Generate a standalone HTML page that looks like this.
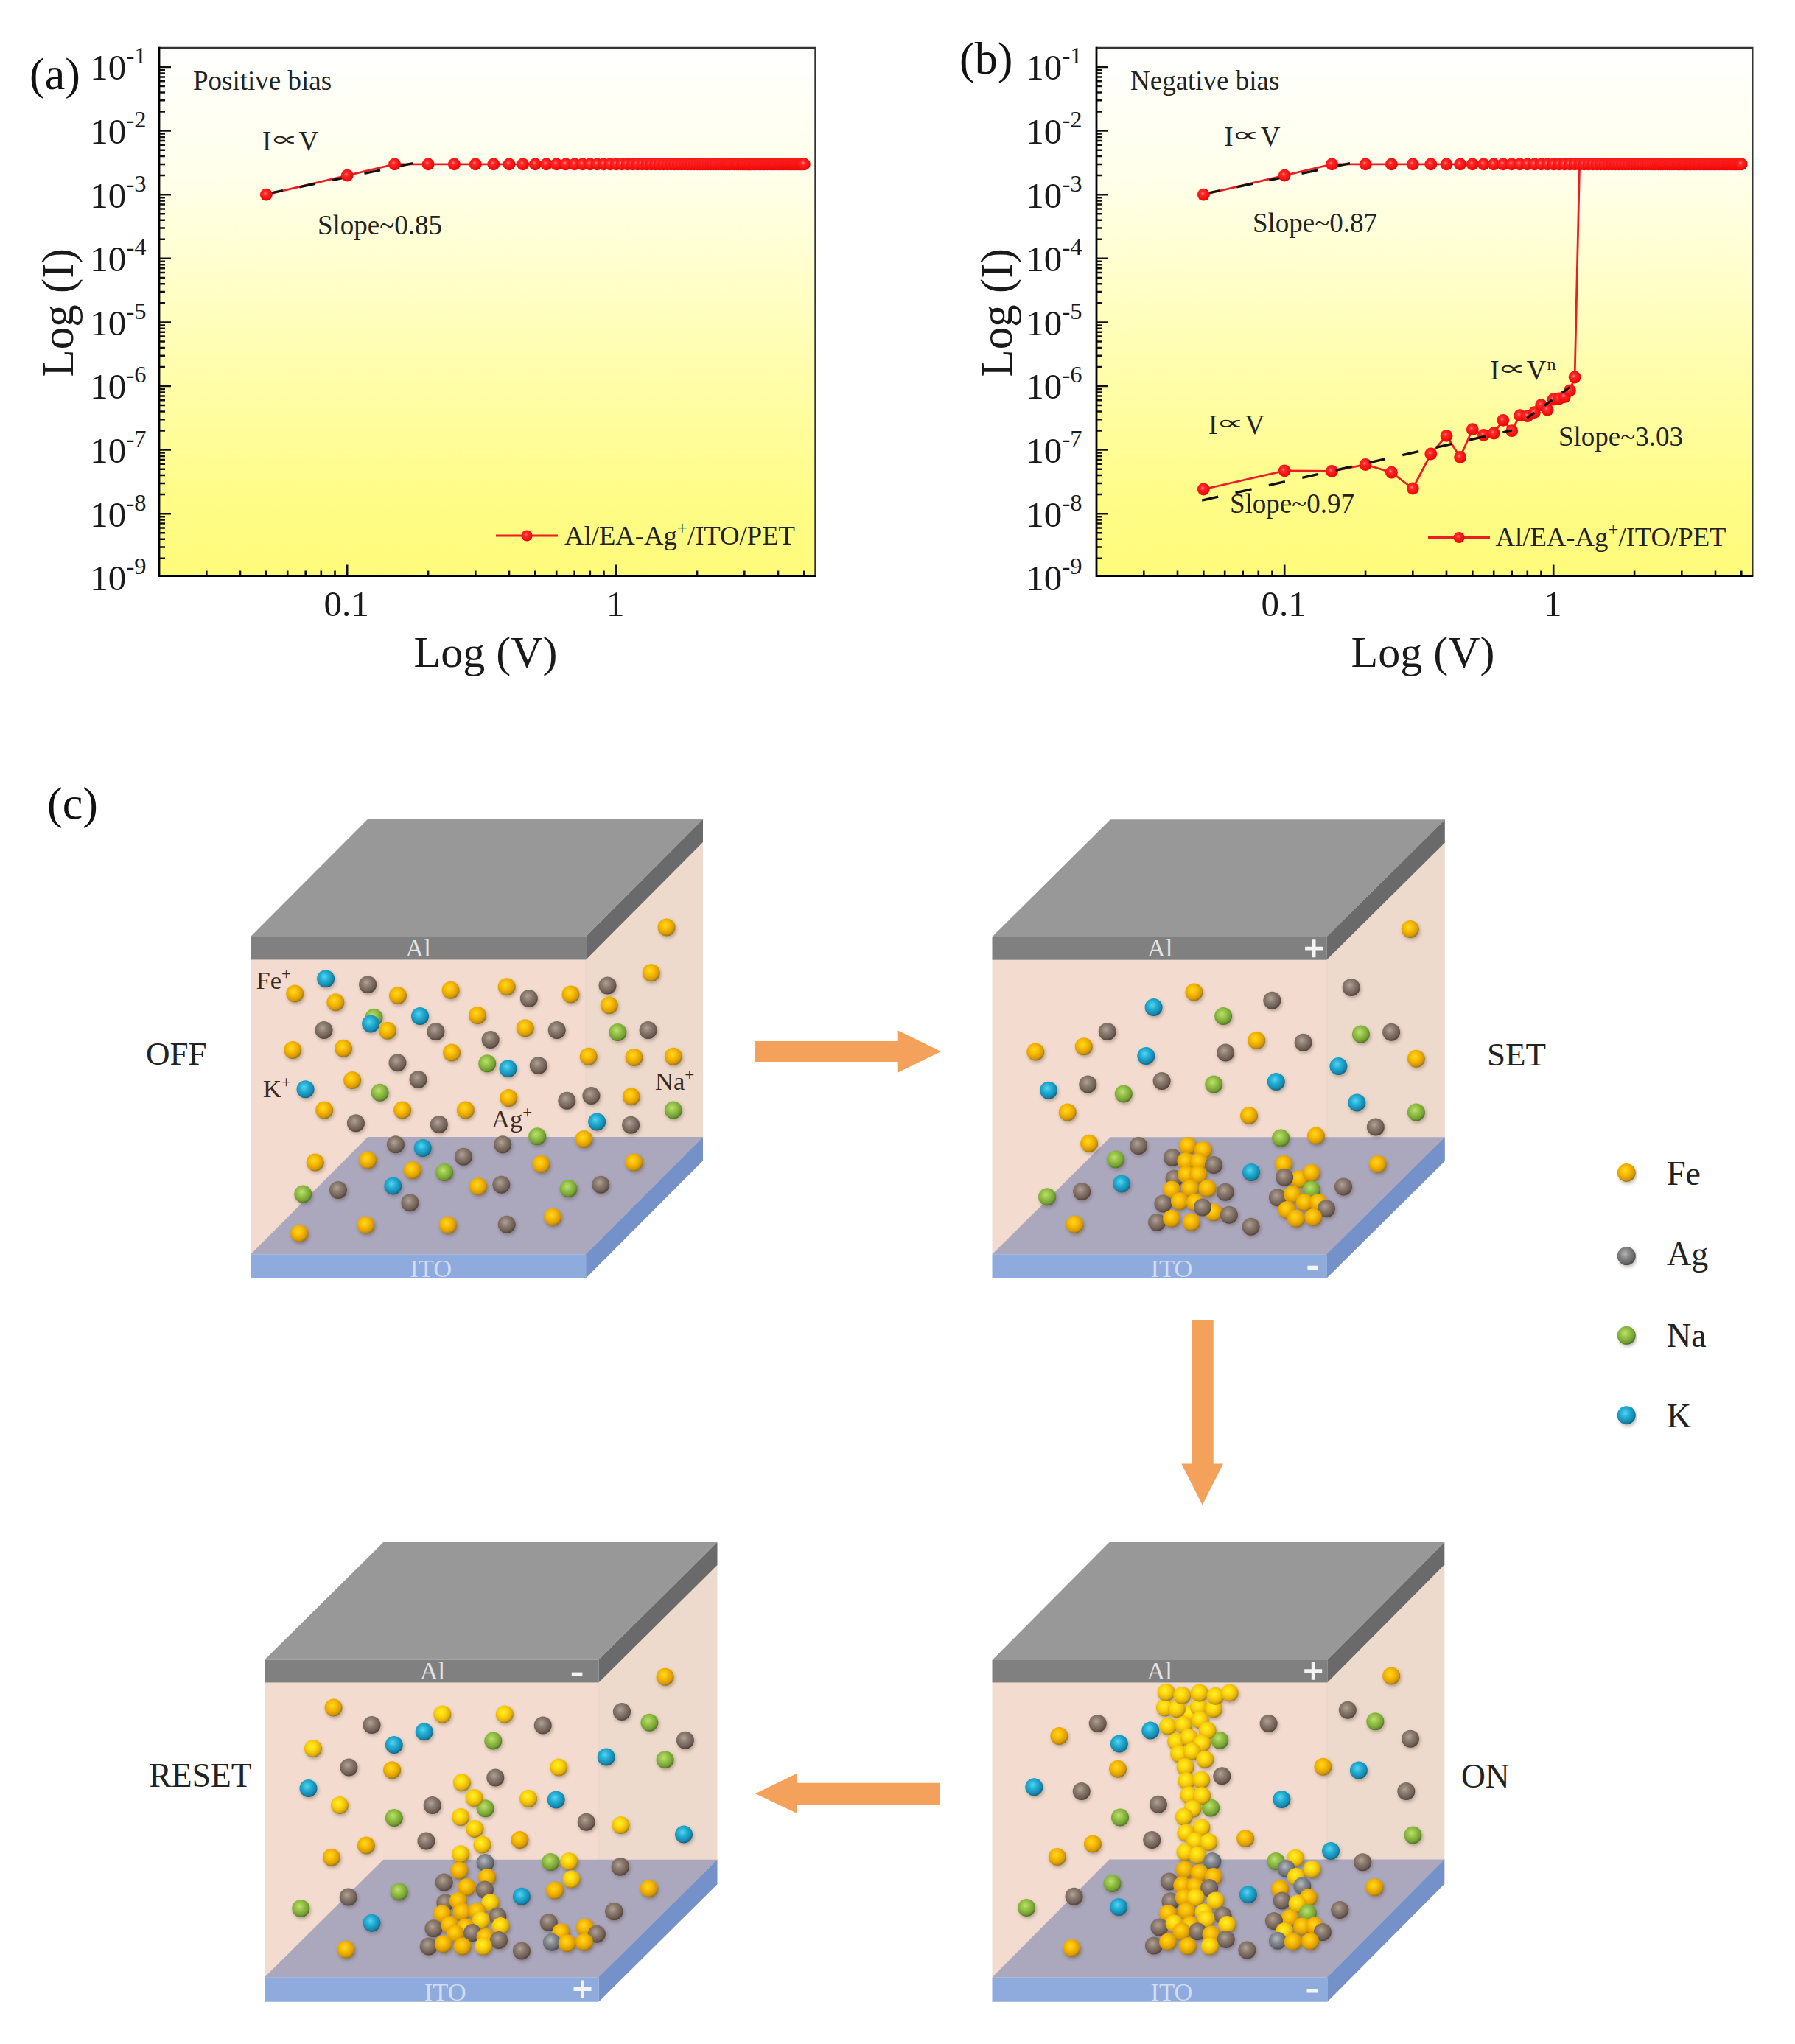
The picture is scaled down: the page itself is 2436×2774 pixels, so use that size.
<!DOCTYPE html>
<html><head><meta charset="utf-8"><title>Figure</title>
<style>html,body{margin:0;padding:0;background:#fff}svg{display:block}</style></head>
<body>
<svg width="2436" height="2774" viewBox="0 0 2436 2774">
<defs>
<linearGradient id="pg" x1="0" y1="0" x2="0" y2="1"><stop offset="0" stop-color="#ffffff"/><stop offset="0.25" stop-color="#ffffea"/><stop offset="0.6" stop-color="#fffeae"/><stop offset="0.85" stop-color="#fffc88"/><stop offset="1" stop-color="#fffb7a"/></linearGradient>
<radialGradient id="rm" cx="0.42" cy="0.4" r="0.6"><stop offset="0" stop-color="#ff8a8a"/><stop offset="0.25" stop-color="#ff2a2a"/><stop offset="1" stop-color="#f00000"/></radialGradient>
<radialGradient id="bY" cx="0.42" cy="0.38" r="0.64"><stop offset="0" stop-color="#ffd91f"/><stop offset="0.42" stop-color="#f8b902"/><stop offset="0.78" stop-color="#d79a07"/><stop offset="1" stop-color="#93700f"/></radialGradient>
<radialGradient id="by" cx="0.42" cy="0.38" r="0.64"><stop offset="0" stop-color="#fff22a"/><stop offset="0.42" stop-color="#fdd408"/><stop offset="0.78" stop-color="#e0ae06"/><stop offset="1" stop-color="#97780f"/></radialGradient>
<radialGradient id="bG" cx="0.42" cy="0.38" r="0.64"><stop offset="0" stop-color="#b1a296"/><stop offset="0.42" stop-color="#8a796d"/><stop offset="0.78" stop-color="#6f5e54"/><stop offset="1" stop-color="#4c403a"/></radialGradient>
<radialGradient id="bS" cx="0.42" cy="0.38" r="0.64"><stop offset="0" stop-color="#b8babd"/><stop offset="0.42" stop-color="#868a90"/><stop offset="0.78" stop-color="#666b72"/><stop offset="1" stop-color="#464a50"/></radialGradient>
<radialGradient id="bN" cx="0.42" cy="0.38" r="0.64"><stop offset="0" stop-color="#bbe070"/><stop offset="0.42" stop-color="#93c044"/><stop offset="0.78" stop-color="#739f34"/><stop offset="1" stop-color="#4c6c24"/></radialGradient>
<radialGradient id="bK" cx="0.42" cy="0.38" r="0.64"><stop offset="0" stop-color="#52d6f0"/><stop offset="0.42" stop-color="#23abd2"/><stop offset="0.78" stop-color="#158ab0"/><stop offset="1" stop-color="#0f5f7c"/></radialGradient>
<radialGradient id="bA" cx="0.42" cy="0.38" r="0.64"><stop offset="0" stop-color="#b4b4b4"/><stop offset="0.42" stop-color="#858585"/><stop offset="0.78" stop-color="#686868"/><stop offset="1" stop-color="#454545"/></radialGradient>
<filter id="sh" x="-5%" y="-5%" width="110%" height="110%"><feDropShadow dx="1.5" dy="2.5" stdDeviation="2.2" flood-color="#3a2a20" flood-opacity="0.33"/></filter>
</defs>
<rect width="2436" height="2774" fill="#fff"/>
<rect x="216.0" y="64.8" width="890.4000000000001" height="716.7" fill="url(#pg)"/>
<path d="M216.0 757.7h8M216.0 742.5h8M216.0 731.7h8M216.0 723.3h8M216.0 716.4h8M216.0 710.6h8M216.0 705.6h8M216.0 701.2h8M216.0 697.2h16M216.0 671.1h8M216.0 655.9h8M216.0 645.1h8M216.0 636.7h8M216.0 629.8h8M216.0 624.0h8M216.0 619.0h8M216.0 614.6h8M216.0 610.6h16M216.0 584.5h8M216.0 569.3h8M216.0 558.5h8M216.0 550.1h8M216.0 543.2h8M216.0 537.4h8M216.0 532.4h8M216.0 528.0h8M216.0 524.0h16M216.0 497.9h8M216.0 482.7h8M216.0 471.9h8M216.0 463.5h8M216.0 456.6h8M216.0 450.8h8M216.0 445.8h8M216.0 441.4h8M216.0 437.4h16M216.0 411.3h8M216.0 396.1h8M216.0 385.3h8M216.0 376.9h8M216.0 370.0h8M216.0 364.2h8M216.0 359.2h8M216.0 354.8h8M216.0 350.8h16M216.0 324.7h8M216.0 309.5h8M216.0 298.7h8M216.0 290.3h8M216.0 283.4h8M216.0 277.6h8M216.0 272.6h8M216.0 268.2h8M216.0 264.2h16M216.0 238.1h8M216.0 222.9h8M216.0 212.1h8M216.0 203.7h8M216.0 196.8h8M216.0 191.0h8M216.0 186.0h8M216.0 181.6h8M216.0 177.6h16M216.0 151.5h8M216.0 136.3h8M216.0 125.5h8M216.0 117.1h8M216.0 110.2h8M216.0 104.4h8M216.0 99.4h8M216.0 95.0h8M216.0 91.0h16" stroke="#111" stroke-width="2.5" fill="none"/>
<path d="M280.3 781.5v-7M326.0 781.5v-7M361.3 781.5v-7M390.2 781.5v-7M414.7 781.5v-7M435.8 781.5v-7M454.5 781.5v-7M471.2 781.5v-15M581.1 781.5v-7M645.3 781.5v-7M691.0 781.5v-7M726.3 781.5v-7M755.2 781.5v-7M779.7 781.5v-7M800.8 781.5v-7M819.5 781.5v-7M836.2 781.5v-15M946.1 781.5v-7M1010.3 781.5v-7M1056.0 781.5v-7M1091.3 781.5v-7" stroke="#111" stroke-width="2.6" fill="none"/>
<path d="M216.0 64.8H1106.4V781.5" stroke="#333" stroke-width="2.2" fill="none"/>
<path d="M216.0 63.8V781.5H1107.4" stroke="#000" stroke-width="2.8" fill="none"/>
<text x="122.3" y="108.3" font-size="49" text-anchor="start" fill="#1a1a1a" font-family='"Liberation Serif", serif'>10</text>
<text x="171.5" y="86.4" font-size="32.5" text-anchor="start" fill="#1a1a1a" font-family='"Liberation Serif", serif'>-1</text>
<text x="122.3" y="194.9" font-size="49" text-anchor="start" fill="#1a1a1a" font-family='"Liberation Serif", serif'>10</text>
<text x="171.5" y="173.0" font-size="32.5" text-anchor="start" fill="#1a1a1a" font-family='"Liberation Serif", serif'>-2</text>
<text x="122.3" y="281.5" font-size="49" text-anchor="start" fill="#1a1a1a" font-family='"Liberation Serif", serif'>10</text>
<text x="171.5" y="259.6" font-size="32.5" text-anchor="start" fill="#1a1a1a" font-family='"Liberation Serif", serif'>-3</text>
<text x="122.3" y="368.1" font-size="49" text-anchor="start" fill="#1a1a1a" font-family='"Liberation Serif", serif'>10</text>
<text x="171.5" y="346.2" font-size="32.5" text-anchor="start" fill="#1a1a1a" font-family='"Liberation Serif", serif'>-4</text>
<text x="122.3" y="454.7" font-size="49" text-anchor="start" fill="#1a1a1a" font-family='"Liberation Serif", serif'>10</text>
<text x="171.5" y="432.8" font-size="32.5" text-anchor="start" fill="#1a1a1a" font-family='"Liberation Serif", serif'>-5</text>
<text x="122.3" y="541.3" font-size="49" text-anchor="start" fill="#1a1a1a" font-family='"Liberation Serif", serif'>10</text>
<text x="171.5" y="519.4" font-size="32.5" text-anchor="start" fill="#1a1a1a" font-family='"Liberation Serif", serif'>-6</text>
<text x="122.3" y="627.9" font-size="49" text-anchor="start" fill="#1a1a1a" font-family='"Liberation Serif", serif'>10</text>
<text x="171.5" y="606.0" font-size="32.5" text-anchor="start" fill="#1a1a1a" font-family='"Liberation Serif", serif'>-7</text>
<text x="122.3" y="714.5" font-size="49" text-anchor="start" fill="#1a1a1a" font-family='"Liberation Serif", serif'>10</text>
<text x="171.5" y="692.6" font-size="32.5" text-anchor="start" fill="#1a1a1a" font-family='"Liberation Serif", serif'>-8</text>
<text x="122.3" y="801.1" font-size="49" text-anchor="start" fill="#1a1a1a" font-family='"Liberation Serif", serif'>10</text>
<text x="171.5" y="779.2" font-size="32.5" text-anchor="start" fill="#1a1a1a" font-family='"Liberation Serif", serif'>-9</text>
<text x="470.2" y="835.5" font-size="49" text-anchor="middle" fill="#1a1a1a" font-family='"Liberation Serif", serif'>0.1</text>
<text x="835.2" y="835.5" font-size="49" text-anchor="middle" fill="#1a1a1a" font-family='"Liberation Serif", serif'>1</text>
<text x="659.0" y="905.0" font-size="60" text-anchor="middle" fill="#1a1a1a" font-family='"Liberation Serif", serif'>Log (V)</text>
<text transform="translate(98.7,424.3) rotate(-90)" font-size="61" text-anchor="middle" fill="#1a1a1a" font-family='"Liberation Serif", serif'>Log (I)</text>
<text x="40.0" y="121.0" font-size="62" text-anchor="start" fill="#111" font-family='"Liberation Serif", serif'>(a)</text>
<text x="262.0" y="122.0" font-size="37" text-anchor="start" fill="#222" font-family='"Liberation Serif", serif'>Positive bias</text>
<text x="356.0" y="204.0" font-size="37" text-anchor="start" fill="#222" font-family='"Liberation Serif", serif'>I</text>
<text transform="translate(385.5,197.5) scale(1,0.5)" font-size="54" text-anchor="middle" fill="#222" font-family='"Liberation Serif", serif'>∝</text>
<text x="405.5" y="204.0" font-size="37" text-anchor="start" fill="#222" font-family='"Liberation Serif", serif'>V</text>
<text x="431.0" y="317.5" font-size="37" text-anchor="start" fill="#222" font-family='"Liberation Serif", serif'>Slope~0.85</text>
<path d="M361.3 264.2L471.2 238.1L535.5 222.9L581.1 222.9L616.4 222.9L645.3 222.9L669.8 222.9L691.0 222.9L709.6 222.9L726.3 222.9L741.4 222.9L755.2 222.9L767.9 222.9L779.7 222.9L790.6 222.9L800.8 222.9L810.4 222.9L819.5 222.9L828.1 222.9L836.2 222.9L843.9 222.9L851.3 222.9L858.4 222.9L865.1 222.9L871.6 222.9L877.8 222.9L883.8 222.9L889.5 222.9L895.1 222.9L900.5 222.9L905.7 222.9L910.7 222.9L915.6 222.9L920.3 222.9L924.9 222.9L929.4 222.9L933.7 222.9L937.9 222.9L942.1 222.9L946.1 222.9L950.0 222.9L953.8 222.9L957.5 222.9L961.2 222.9L964.7 222.9L968.2 222.9L971.6 222.9L975.0 222.9L978.2 222.9L981.4 222.9L984.6 222.9L987.7 222.9L990.7 222.9L993.6 222.9L996.6 222.9L999.4 222.9L1002.2 222.9L1005.0 222.9L1007.7 222.9L1010.3 222.9L1013.0 222.9L1015.5 222.9L1018.1 222.9L1020.6 222.9L1023.0 222.9L1025.5 222.9L1027.8 222.9L1030.2 222.9L1032.5 222.9L1034.8 222.9L1037.0 222.9L1039.3 222.9L1041.4 222.9L1043.6 222.9L1045.7 222.9L1047.8 222.9L1049.9 222.9L1051.9 222.9L1054.0 222.9L1056.0 222.9L1057.9 222.9L1059.9 222.9L1061.8 222.9L1063.7 222.9L1065.6 222.9L1067.4 222.9L1069.2 222.9L1071.1 222.9L1072.9 222.9L1074.6 222.9L1076.4 222.9L1078.1 222.9L1079.8 222.9L1081.5 222.9L1083.2 222.9L1084.9 222.9L1086.5 222.9L1088.1 222.9L1089.7 222.9L1091.3 222.9" stroke="#ee1c25" stroke-width="2.8" fill="none"/>
<path d="M362.3 263L568.3 220" stroke="#111" stroke-width="3.3" stroke-dasharray="22 23" fill="none"/>
<circle cx="361.3" cy="264.2" r="8.4" fill="url(#rm)"/>
<circle cx="471.2" cy="238.1" r="8.4" fill="url(#rm)"/>
<circle cx="535.5" cy="222.9" r="8.4" fill="url(#rm)"/>
<circle cx="581.1" cy="222.9" r="8.4" fill="url(#rm)"/>
<circle cx="616.4" cy="222.9" r="8.4" fill="url(#rm)"/>
<circle cx="645.3" cy="222.9" r="8.4" fill="url(#rm)"/>
<circle cx="669.8" cy="222.9" r="8.4" fill="url(#rm)"/>
<circle cx="691.0" cy="222.9" r="8.4" fill="url(#rm)"/>
<circle cx="709.6" cy="222.9" r="8.4" fill="url(#rm)"/>
<circle cx="726.3" cy="222.9" r="8.4" fill="url(#rm)"/>
<circle cx="741.4" cy="222.9" r="8.4" fill="url(#rm)"/>
<circle cx="755.2" cy="222.9" r="8.4" fill="url(#rm)"/>
<circle cx="767.9" cy="222.9" r="8.4" fill="url(#rm)"/>
<circle cx="779.7" cy="222.9" r="8.4" fill="url(#rm)"/>
<circle cx="790.6" cy="222.9" r="8.4" fill="url(#rm)"/>
<circle cx="800.8" cy="222.9" r="8.4" fill="url(#rm)"/>
<circle cx="810.4" cy="222.9" r="8.4" fill="url(#rm)"/>
<circle cx="819.5" cy="222.9" r="8.4" fill="url(#rm)"/>
<circle cx="828.1" cy="222.9" r="8.4" fill="url(#rm)"/>
<circle cx="836.2" cy="222.9" r="8.4" fill="url(#rm)"/>
<circle cx="843.9" cy="222.9" r="8.4" fill="url(#rm)"/>
<circle cx="851.3" cy="222.9" r="8.4" fill="url(#rm)"/>
<circle cx="858.4" cy="222.9" r="8.4" fill="url(#rm)"/>
<circle cx="865.1" cy="222.9" r="8.4" fill="url(#rm)"/>
<circle cx="871.6" cy="222.9" r="8.4" fill="url(#rm)"/>
<circle cx="877.8" cy="222.9" r="8.4" fill="url(#rm)"/>
<circle cx="883.8" cy="222.9" r="8.4" fill="url(#rm)"/>
<circle cx="889.5" cy="222.9" r="8.4" fill="url(#rm)"/>
<circle cx="895.1" cy="222.9" r="8.4" fill="url(#rm)"/>
<circle cx="900.5" cy="222.9" r="8.4" fill="url(#rm)"/>
<circle cx="905.7" cy="222.9" r="8.4" fill="url(#rm)"/>
<circle cx="910.7" cy="222.9" r="8.4" fill="url(#rm)"/>
<circle cx="915.6" cy="222.9" r="8.4" fill="url(#rm)"/>
<circle cx="920.3" cy="222.9" r="8.4" fill="url(#rm)"/>
<circle cx="924.9" cy="222.9" r="8.4" fill="url(#rm)"/>
<circle cx="929.4" cy="222.9" r="8.4" fill="url(#rm)"/>
<circle cx="933.7" cy="222.9" r="8.4" fill="url(#rm)"/>
<circle cx="937.9" cy="222.9" r="8.4" fill="url(#rm)"/>
<circle cx="942.1" cy="222.9" r="8.4" fill="url(#rm)"/>
<circle cx="946.1" cy="222.9" r="8.4" fill="url(#rm)"/>
<circle cx="950.0" cy="222.9" r="8.4" fill="url(#rm)"/>
<circle cx="953.8" cy="222.9" r="8.4" fill="url(#rm)"/>
<circle cx="957.5" cy="222.9" r="8.4" fill="url(#rm)"/>
<circle cx="961.2" cy="222.9" r="8.4" fill="url(#rm)"/>
<circle cx="964.7" cy="222.9" r="8.4" fill="url(#rm)"/>
<circle cx="968.2" cy="222.9" r="8.4" fill="url(#rm)"/>
<circle cx="971.6" cy="222.9" r="8.4" fill="url(#rm)"/>
<circle cx="975.0" cy="222.9" r="8.4" fill="url(#rm)"/>
<circle cx="978.2" cy="222.9" r="8.4" fill="url(#rm)"/>
<circle cx="981.4" cy="222.9" r="8.4" fill="url(#rm)"/>
<circle cx="984.6" cy="222.9" r="8.4" fill="url(#rm)"/>
<circle cx="987.7" cy="222.9" r="8.4" fill="url(#rm)"/>
<circle cx="990.7" cy="222.9" r="8.4" fill="url(#rm)"/>
<circle cx="993.6" cy="222.9" r="8.4" fill="url(#rm)"/>
<circle cx="996.6" cy="222.9" r="8.4" fill="url(#rm)"/>
<circle cx="999.4" cy="222.9" r="8.4" fill="url(#rm)"/>
<circle cx="1002.2" cy="222.9" r="8.4" fill="url(#rm)"/>
<circle cx="1005.0" cy="222.9" r="8.4" fill="url(#rm)"/>
<circle cx="1007.7" cy="222.9" r="8.4" fill="url(#rm)"/>
<circle cx="1010.3" cy="222.9" r="8.4" fill="url(#rm)"/>
<circle cx="1013.0" cy="222.9" r="8.4" fill="url(#rm)"/>
<circle cx="1015.5" cy="222.9" r="8.4" fill="url(#rm)"/>
<circle cx="1018.1" cy="222.9" r="8.4" fill="url(#rm)"/>
<circle cx="1020.6" cy="222.9" r="8.4" fill="url(#rm)"/>
<circle cx="1023.0" cy="222.9" r="8.4" fill="url(#rm)"/>
<circle cx="1025.5" cy="222.9" r="8.4" fill="url(#rm)"/>
<circle cx="1027.8" cy="222.9" r="8.4" fill="url(#rm)"/>
<circle cx="1030.2" cy="222.9" r="8.4" fill="url(#rm)"/>
<circle cx="1032.5" cy="222.9" r="8.4" fill="url(#rm)"/>
<circle cx="1034.8" cy="222.9" r="8.4" fill="url(#rm)"/>
<circle cx="1037.0" cy="222.9" r="8.4" fill="url(#rm)"/>
<circle cx="1039.3" cy="222.9" r="8.4" fill="url(#rm)"/>
<circle cx="1041.4" cy="222.9" r="8.4" fill="url(#rm)"/>
<circle cx="1043.6" cy="222.9" r="8.4" fill="url(#rm)"/>
<circle cx="1045.7" cy="222.9" r="8.4" fill="url(#rm)"/>
<circle cx="1047.8" cy="222.9" r="8.4" fill="url(#rm)"/>
<circle cx="1049.9" cy="222.9" r="8.4" fill="url(#rm)"/>
<circle cx="1051.9" cy="222.9" r="8.4" fill="url(#rm)"/>
<circle cx="1054.0" cy="222.9" r="8.4" fill="url(#rm)"/>
<circle cx="1056.0" cy="222.9" r="8.4" fill="url(#rm)"/>
<circle cx="1057.9" cy="222.9" r="8.4" fill="url(#rm)"/>
<circle cx="1059.9" cy="222.9" r="8.4" fill="url(#rm)"/>
<circle cx="1061.8" cy="222.9" r="8.4" fill="url(#rm)"/>
<circle cx="1063.7" cy="222.9" r="8.4" fill="url(#rm)"/>
<circle cx="1065.6" cy="222.9" r="8.4" fill="url(#rm)"/>
<circle cx="1067.4" cy="222.9" r="8.4" fill="url(#rm)"/>
<circle cx="1069.2" cy="222.9" r="8.4" fill="url(#rm)"/>
<circle cx="1071.1" cy="222.9" r="8.4" fill="url(#rm)"/>
<circle cx="1072.9" cy="222.9" r="8.4" fill="url(#rm)"/>
<circle cx="1074.6" cy="222.9" r="8.4" fill="url(#rm)"/>
<circle cx="1076.4" cy="222.9" r="8.4" fill="url(#rm)"/>
<circle cx="1078.1" cy="222.9" r="8.4" fill="url(#rm)"/>
<circle cx="1079.8" cy="222.9" r="8.4" fill="url(#rm)"/>
<circle cx="1081.5" cy="222.9" r="8.4" fill="url(#rm)"/>
<circle cx="1083.2" cy="222.9" r="8.4" fill="url(#rm)"/>
<circle cx="1084.9" cy="222.9" r="8.4" fill="url(#rm)"/>
<circle cx="1086.5" cy="222.9" r="8.4" fill="url(#rm)"/>
<circle cx="1088.1" cy="222.9" r="8.4" fill="url(#rm)"/>
<circle cx="1089.7" cy="222.9" r="8.4" fill="url(#rm)"/>
<circle cx="1091.3" cy="222.9" r="8.4" fill="url(#rm)"/>
<path d="M673 727h84" stroke="#ee1c25" stroke-width="3"/>
<circle cx="715" cy="727" r="7.6" fill="url(#rm)"/>
<text x="766.0" y="739.0" font-size="36.7" text-anchor="start" fill="#222" font-family='"Liberation Serif", serif'>Al/EA-Ag<tspan font-size="25" dy="-14">+</tspan><tspan dy="14">/ITO/PET</tspan></text>
<rect x="1488.0" y="64.8" width="890.4000000000001" height="716.7" fill="url(#pg)"/>
<path d="M1488.0 757.7h8M1488.0 742.5h8M1488.0 731.7h8M1488.0 723.3h8M1488.0 716.4h8M1488.0 710.6h8M1488.0 705.6h8M1488.0 701.2h8M1488.0 697.2h16M1488.0 671.1h8M1488.0 655.9h8M1488.0 645.1h8M1488.0 636.7h8M1488.0 629.8h8M1488.0 624.0h8M1488.0 619.0h8M1488.0 614.6h8M1488.0 610.6h16M1488.0 584.5h8M1488.0 569.3h8M1488.0 558.5h8M1488.0 550.1h8M1488.0 543.2h8M1488.0 537.4h8M1488.0 532.4h8M1488.0 528.0h8M1488.0 524.0h16M1488.0 497.9h8M1488.0 482.7h8M1488.0 471.9h8M1488.0 463.5h8M1488.0 456.6h8M1488.0 450.8h8M1488.0 445.8h8M1488.0 441.4h8M1488.0 437.4h16M1488.0 411.3h8M1488.0 396.1h8M1488.0 385.3h8M1488.0 376.9h8M1488.0 370.0h8M1488.0 364.2h8M1488.0 359.2h8M1488.0 354.8h8M1488.0 350.8h16M1488.0 324.7h8M1488.0 309.5h8M1488.0 298.7h8M1488.0 290.3h8M1488.0 283.4h8M1488.0 277.6h8M1488.0 272.6h8M1488.0 268.2h8M1488.0 264.2h16M1488.0 238.1h8M1488.0 222.9h8M1488.0 212.1h8M1488.0 203.7h8M1488.0 196.8h8M1488.0 191.0h8M1488.0 186.0h8M1488.0 181.6h8M1488.0 177.6h16M1488.0 151.5h8M1488.0 136.3h8M1488.0 125.5h8M1488.0 117.1h8M1488.0 110.2h8M1488.0 104.4h8M1488.0 99.4h8M1488.0 95.0h8M1488.0 91.0h16" stroke="#111" stroke-width="2.5" fill="none"/>
<path d="M1552.3 781.5v-7M1598.0 781.5v-7M1633.3 781.5v-7M1662.2 781.5v-7M1686.7 781.5v-7M1707.8 781.5v-7M1726.5 781.5v-7M1743.2 781.5v-15M1853.1 781.5v-7M1917.3 781.5v-7M1963.0 781.5v-7M1998.3 781.5v-7M2027.2 781.5v-7M2051.7 781.5v-7M2072.8 781.5v-7M2091.5 781.5v-7M2108.2 781.5v-15M2218.1 781.5v-7M2282.3 781.5v-7M2328.0 781.5v-7M2363.3 781.5v-7" stroke="#111" stroke-width="2.6" fill="none"/>
<path d="M1488.0 64.8H2378.4V781.5" stroke="#333" stroke-width="2.2" fill="none"/>
<path d="M1488.0 63.8V781.5H2379.4" stroke="#000" stroke-width="2.8" fill="none"/>
<text x="1392.3" y="108.3" font-size="49" text-anchor="start" fill="#1a1a1a" font-family='"Liberation Serif", serif'>10</text>
<text x="1441.5" y="86.4" font-size="32.5" text-anchor="start" fill="#1a1a1a" font-family='"Liberation Serif", serif'>-1</text>
<text x="1392.3" y="194.9" font-size="49" text-anchor="start" fill="#1a1a1a" font-family='"Liberation Serif", serif'>10</text>
<text x="1441.5" y="173.0" font-size="32.5" text-anchor="start" fill="#1a1a1a" font-family='"Liberation Serif", serif'>-2</text>
<text x="1392.3" y="281.5" font-size="49" text-anchor="start" fill="#1a1a1a" font-family='"Liberation Serif", serif'>10</text>
<text x="1441.5" y="259.6" font-size="32.5" text-anchor="start" fill="#1a1a1a" font-family='"Liberation Serif", serif'>-3</text>
<text x="1392.3" y="368.1" font-size="49" text-anchor="start" fill="#1a1a1a" font-family='"Liberation Serif", serif'>10</text>
<text x="1441.5" y="346.2" font-size="32.5" text-anchor="start" fill="#1a1a1a" font-family='"Liberation Serif", serif'>-4</text>
<text x="1392.3" y="454.7" font-size="49" text-anchor="start" fill="#1a1a1a" font-family='"Liberation Serif", serif'>10</text>
<text x="1441.5" y="432.8" font-size="32.5" text-anchor="start" fill="#1a1a1a" font-family='"Liberation Serif", serif'>-5</text>
<text x="1392.3" y="541.3" font-size="49" text-anchor="start" fill="#1a1a1a" font-family='"Liberation Serif", serif'>10</text>
<text x="1441.5" y="519.4" font-size="32.5" text-anchor="start" fill="#1a1a1a" font-family='"Liberation Serif", serif'>-6</text>
<text x="1392.3" y="627.9" font-size="49" text-anchor="start" fill="#1a1a1a" font-family='"Liberation Serif", serif'>10</text>
<text x="1441.5" y="606.0" font-size="32.5" text-anchor="start" fill="#1a1a1a" font-family='"Liberation Serif", serif'>-7</text>
<text x="1392.3" y="714.5" font-size="49" text-anchor="start" fill="#1a1a1a" font-family='"Liberation Serif", serif'>10</text>
<text x="1441.5" y="692.6" font-size="32.5" text-anchor="start" fill="#1a1a1a" font-family='"Liberation Serif", serif'>-8</text>
<text x="1392.3" y="801.1" font-size="49" text-anchor="start" fill="#1a1a1a" font-family='"Liberation Serif", serif'>10</text>
<text x="1441.5" y="779.2" font-size="32.5" text-anchor="start" fill="#1a1a1a" font-family='"Liberation Serif", serif'>-9</text>
<text x="1742.2" y="835.5" font-size="49" text-anchor="middle" fill="#1a1a1a" font-family='"Liberation Serif", serif'>0.1</text>
<text x="2107.2" y="835.5" font-size="49" text-anchor="middle" fill="#1a1a1a" font-family='"Liberation Serif", serif'>1</text>
<text x="1931.0" y="905.0" font-size="60" text-anchor="middle" fill="#1a1a1a" font-family='"Liberation Serif", serif'>Log (V)</text>
<text transform="translate(1372.7,424.3) rotate(-90)" font-size="61" text-anchor="middle" fill="#1a1a1a" font-family='"Liberation Serif", serif'>Log (I)</text>
<text x="1302.0" y="100.0" font-size="62" text-anchor="start" fill="#111" font-family='"Liberation Serif", serif'>(b)</text>
<text x="1534.0" y="122.0" font-size="37" text-anchor="start" fill="#222" font-family='"Liberation Serif", serif'>Negative bias</text>
<text x="1661.3" y="198.0" font-size="37" text-anchor="start" fill="#222" font-family='"Liberation Serif", serif'>I</text>
<text transform="translate(1690.8,191.5) scale(1,0.5)" font-size="54" text-anchor="middle" fill="#222" font-family='"Liberation Serif", serif'>∝</text>
<text x="1710.8" y="198.0" font-size="37" text-anchor="start" fill="#222" font-family='"Liberation Serif", serif'>V</text>
<text x="1700.0" y="315.0" font-size="37" text-anchor="start" fill="#222" font-family='"Liberation Serif", serif'>Slope~0.87</text>
<text x="1640.0" y="589.0" font-size="37" text-anchor="start" fill="#222" font-family='"Liberation Serif", serif'>I</text>
<text transform="translate(1669.5,582.5) scale(1,0.5)" font-size="54" text-anchor="middle" fill="#222" font-family='"Liberation Serif", serif'>∝</text>
<text x="1689.5" y="589.0" font-size="37" text-anchor="start" fill="#222" font-family='"Liberation Serif", serif'>V</text>
<text x="2022.2" y="515.4" font-size="37" text-anchor="start" fill="#222" font-family='"Liberation Serif", serif'>I</text>
<text transform="translate(2051.7,508.9) scale(1,0.5)" font-size="54" text-anchor="middle" fill="#222" font-family='"Liberation Serif", serif'>∝</text>
<text x="2071.7" y="515.4" font-size="37" text-anchor="start" fill="#222" font-family='"Liberation Serif", serif'>V<tspan font-size="24" dy="-13" dx="1">n</tspan></text>
<text x="2115.0" y="605.0" font-size="37" text-anchor="start" fill="#222" font-family='"Liberation Serif", serif'>Slope~3.03</text>
<text x="1669.0" y="696.0" font-size="37" text-anchor="start" fill="#222" font-family='"Liberation Serif", serif'>Slope~0.97</text>
<path d="M1633.3 664.0L1743.2 638.9L1807.5 639.5L1853.1 630.5L1888.4 641.2L1917.3 663.0L1941.8 616.0L1963.0 591.4L1981.6 620.5L1998.3 582.7L2013.4 590.4L2027.2 588.0L2039.9 570.3L2051.7 584.7L2062.6 563.7L2072.8 564.7L2082.4 559.6L2091.5 549.6L2100.1 556.3L2108.2 542.0L2115.9 541.0L2123.3 538.6L2130.4 530.0L2137.1 512.0L2143.6 222.9" stroke="#ee1c25" stroke-width="2.8" fill="none"/>
<circle cx="1633.3" cy="664.0" r="8.4" fill="url(#rm)"/>
<circle cx="1743.2" cy="638.9" r="8.4" fill="url(#rm)"/>
<circle cx="1807.5" cy="639.5" r="8.4" fill="url(#rm)"/>
<circle cx="1853.1" cy="630.5" r="8.4" fill="url(#rm)"/>
<circle cx="1888.4" cy="641.2" r="8.4" fill="url(#rm)"/>
<circle cx="1917.3" cy="663.0" r="8.4" fill="url(#rm)"/>
<circle cx="1941.8" cy="616.0" r="8.4" fill="url(#rm)"/>
<circle cx="1963.0" cy="591.4" r="8.4" fill="url(#rm)"/>
<circle cx="1981.6" cy="620.5" r="8.4" fill="url(#rm)"/>
<circle cx="1998.3" cy="582.7" r="8.4" fill="url(#rm)"/>
<circle cx="2013.4" cy="590.4" r="8.4" fill="url(#rm)"/>
<circle cx="2027.2" cy="588.0" r="8.4" fill="url(#rm)"/>
<circle cx="2039.9" cy="570.3" r="8.4" fill="url(#rm)"/>
<circle cx="2051.7" cy="584.7" r="8.4" fill="url(#rm)"/>
<circle cx="2062.6" cy="563.7" r="8.4" fill="url(#rm)"/>
<circle cx="2072.8" cy="564.7" r="8.4" fill="url(#rm)"/>
<circle cx="2082.4" cy="559.6" r="8.4" fill="url(#rm)"/>
<circle cx="2091.5" cy="549.6" r="8.4" fill="url(#rm)"/>
<circle cx="2100.1" cy="556.3" r="8.4" fill="url(#rm)"/>
<circle cx="2108.2" cy="542.0" r="8.4" fill="url(#rm)"/>
<circle cx="2115.9" cy="541.0" r="8.4" fill="url(#rm)"/>
<circle cx="2123.3" cy="538.6" r="8.4" fill="url(#rm)"/>
<circle cx="2130.4" cy="530.0" r="8.4" fill="url(#rm)"/>
<circle cx="2137.1" cy="512.0" r="8.4" fill="url(#rm)"/>
<path d="M1631.2 679.2L2052 583.9" stroke="#111" stroke-width="3.3" stroke-dasharray="22.5 24" fill="none"/>
<path d="M2072 567.6L2136 521.5" stroke="#111" stroke-width="3.3" stroke-dasharray="13 16.5" fill="none"/>
<path d="M1633.3 264.2L1743.2 238.1L1807.5 222.9L1853.1 222.9L1888.4 222.9L1917.3 222.9L1941.8 222.9L1963.0 222.9L1981.6 222.9L1998.3 222.9L2013.4 222.9L2027.2 222.9L2039.9 222.9L2051.7 222.9L2062.6 222.9L2072.8 222.9L2082.4 222.9L2091.5 222.9L2100.1 222.9L2108.2 222.9L2115.9 222.9L2123.3 222.9L2130.4 222.9L2137.1 222.9L2143.6 222.9L2149.8 222.9L2155.8 222.9L2161.5 222.9L2167.1 222.9L2172.5 222.9L2177.7 222.9L2182.7 222.9L2187.6 222.9L2192.3 222.9L2196.9 222.9L2201.4 222.9L2205.7 222.9L2209.9 222.9L2214.1 222.9L2218.1 222.9L2222.0 222.9L2225.8 222.9L2229.5 222.9L2233.2 222.9L2236.7 222.9L2240.2 222.9L2243.6 222.9L2247.0 222.9L2250.2 222.9L2253.4 222.9L2256.6 222.9L2259.7 222.9L2262.7 222.9L2265.6 222.9L2268.6 222.9L2271.4 222.9L2274.2 222.9L2277.0 222.9L2279.7 222.9L2282.3 222.9L2285.0 222.9L2287.5 222.9L2290.1 222.9L2292.6 222.9L2295.0 222.9L2297.5 222.9L2299.8 222.9L2302.2 222.9L2304.5 222.9L2306.8 222.9L2309.0 222.9L2311.3 222.9L2313.4 222.9L2315.6 222.9L2317.7 222.9L2319.8 222.9L2321.9 222.9L2323.9 222.9L2326.0 222.9L2328.0 222.9L2329.9 222.9L2331.9 222.9L2333.8 222.9L2335.7 222.9L2337.6 222.9L2339.4 222.9L2341.2 222.9L2343.1 222.9L2344.9 222.9L2346.6 222.9L2348.4 222.9L2350.1 222.9L2351.8 222.9L2353.5 222.9L2355.2 222.9L2356.9 222.9L2358.5 222.9L2360.1 222.9L2361.7 222.9L2363.3 222.9" stroke="#ee1c25" stroke-width="2.8" fill="none"/>
<path d="M1634.3 263L1840.3 220" stroke="#111" stroke-width="3.3" stroke-dasharray="22 23" fill="none"/>
<circle cx="1633.3" cy="264.2" r="8.4" fill="url(#rm)"/>
<circle cx="1743.2" cy="238.1" r="8.4" fill="url(#rm)"/>
<circle cx="1807.5" cy="222.9" r="8.4" fill="url(#rm)"/>
<circle cx="1853.1" cy="222.9" r="8.4" fill="url(#rm)"/>
<circle cx="1888.4" cy="222.9" r="8.4" fill="url(#rm)"/>
<circle cx="1917.3" cy="222.9" r="8.4" fill="url(#rm)"/>
<circle cx="1941.8" cy="222.9" r="8.4" fill="url(#rm)"/>
<circle cx="1963.0" cy="222.9" r="8.4" fill="url(#rm)"/>
<circle cx="1981.6" cy="222.9" r="8.4" fill="url(#rm)"/>
<circle cx="1998.3" cy="222.9" r="8.4" fill="url(#rm)"/>
<circle cx="2013.4" cy="222.9" r="8.4" fill="url(#rm)"/>
<circle cx="2027.2" cy="222.9" r="8.4" fill="url(#rm)"/>
<circle cx="2039.9" cy="222.9" r="8.4" fill="url(#rm)"/>
<circle cx="2051.7" cy="222.9" r="8.4" fill="url(#rm)"/>
<circle cx="2062.6" cy="222.9" r="8.4" fill="url(#rm)"/>
<circle cx="2072.8" cy="222.9" r="8.4" fill="url(#rm)"/>
<circle cx="2082.4" cy="222.9" r="8.4" fill="url(#rm)"/>
<circle cx="2091.5" cy="222.9" r="8.4" fill="url(#rm)"/>
<circle cx="2100.1" cy="222.9" r="8.4" fill="url(#rm)"/>
<circle cx="2108.2" cy="222.9" r="8.4" fill="url(#rm)"/>
<circle cx="2115.9" cy="222.9" r="8.4" fill="url(#rm)"/>
<circle cx="2123.3" cy="222.9" r="8.4" fill="url(#rm)"/>
<circle cx="2130.4" cy="222.9" r="8.4" fill="url(#rm)"/>
<circle cx="2137.1" cy="222.9" r="8.4" fill="url(#rm)"/>
<circle cx="2143.6" cy="222.9" r="8.4" fill="url(#rm)"/>
<circle cx="2149.8" cy="222.9" r="8.4" fill="url(#rm)"/>
<circle cx="2155.8" cy="222.9" r="8.4" fill="url(#rm)"/>
<circle cx="2161.5" cy="222.9" r="8.4" fill="url(#rm)"/>
<circle cx="2167.1" cy="222.9" r="8.4" fill="url(#rm)"/>
<circle cx="2172.5" cy="222.9" r="8.4" fill="url(#rm)"/>
<circle cx="2177.7" cy="222.9" r="8.4" fill="url(#rm)"/>
<circle cx="2182.7" cy="222.9" r="8.4" fill="url(#rm)"/>
<circle cx="2187.6" cy="222.9" r="8.4" fill="url(#rm)"/>
<circle cx="2192.3" cy="222.9" r="8.4" fill="url(#rm)"/>
<circle cx="2196.9" cy="222.9" r="8.4" fill="url(#rm)"/>
<circle cx="2201.4" cy="222.9" r="8.4" fill="url(#rm)"/>
<circle cx="2205.7" cy="222.9" r="8.4" fill="url(#rm)"/>
<circle cx="2209.9" cy="222.9" r="8.4" fill="url(#rm)"/>
<circle cx="2214.1" cy="222.9" r="8.4" fill="url(#rm)"/>
<circle cx="2218.1" cy="222.9" r="8.4" fill="url(#rm)"/>
<circle cx="2222.0" cy="222.9" r="8.4" fill="url(#rm)"/>
<circle cx="2225.8" cy="222.9" r="8.4" fill="url(#rm)"/>
<circle cx="2229.5" cy="222.9" r="8.4" fill="url(#rm)"/>
<circle cx="2233.2" cy="222.9" r="8.4" fill="url(#rm)"/>
<circle cx="2236.7" cy="222.9" r="8.4" fill="url(#rm)"/>
<circle cx="2240.2" cy="222.9" r="8.4" fill="url(#rm)"/>
<circle cx="2243.6" cy="222.9" r="8.4" fill="url(#rm)"/>
<circle cx="2247.0" cy="222.9" r="8.4" fill="url(#rm)"/>
<circle cx="2250.2" cy="222.9" r="8.4" fill="url(#rm)"/>
<circle cx="2253.4" cy="222.9" r="8.4" fill="url(#rm)"/>
<circle cx="2256.6" cy="222.9" r="8.4" fill="url(#rm)"/>
<circle cx="2259.7" cy="222.9" r="8.4" fill="url(#rm)"/>
<circle cx="2262.7" cy="222.9" r="8.4" fill="url(#rm)"/>
<circle cx="2265.6" cy="222.9" r="8.4" fill="url(#rm)"/>
<circle cx="2268.6" cy="222.9" r="8.4" fill="url(#rm)"/>
<circle cx="2271.4" cy="222.9" r="8.4" fill="url(#rm)"/>
<circle cx="2274.2" cy="222.9" r="8.4" fill="url(#rm)"/>
<circle cx="2277.0" cy="222.9" r="8.4" fill="url(#rm)"/>
<circle cx="2279.7" cy="222.9" r="8.4" fill="url(#rm)"/>
<circle cx="2282.3" cy="222.9" r="8.4" fill="url(#rm)"/>
<circle cx="2285.0" cy="222.9" r="8.4" fill="url(#rm)"/>
<circle cx="2287.5" cy="222.9" r="8.4" fill="url(#rm)"/>
<circle cx="2290.1" cy="222.9" r="8.4" fill="url(#rm)"/>
<circle cx="2292.6" cy="222.9" r="8.4" fill="url(#rm)"/>
<circle cx="2295.0" cy="222.9" r="8.4" fill="url(#rm)"/>
<circle cx="2297.5" cy="222.9" r="8.4" fill="url(#rm)"/>
<circle cx="2299.8" cy="222.9" r="8.4" fill="url(#rm)"/>
<circle cx="2302.2" cy="222.9" r="8.4" fill="url(#rm)"/>
<circle cx="2304.5" cy="222.9" r="8.4" fill="url(#rm)"/>
<circle cx="2306.8" cy="222.9" r="8.4" fill="url(#rm)"/>
<circle cx="2309.0" cy="222.9" r="8.4" fill="url(#rm)"/>
<circle cx="2311.3" cy="222.9" r="8.4" fill="url(#rm)"/>
<circle cx="2313.4" cy="222.9" r="8.4" fill="url(#rm)"/>
<circle cx="2315.6" cy="222.9" r="8.4" fill="url(#rm)"/>
<circle cx="2317.7" cy="222.9" r="8.4" fill="url(#rm)"/>
<circle cx="2319.8" cy="222.9" r="8.4" fill="url(#rm)"/>
<circle cx="2321.9" cy="222.9" r="8.4" fill="url(#rm)"/>
<circle cx="2323.9" cy="222.9" r="8.4" fill="url(#rm)"/>
<circle cx="2326.0" cy="222.9" r="8.4" fill="url(#rm)"/>
<circle cx="2328.0" cy="222.9" r="8.4" fill="url(#rm)"/>
<circle cx="2329.9" cy="222.9" r="8.4" fill="url(#rm)"/>
<circle cx="2331.9" cy="222.9" r="8.4" fill="url(#rm)"/>
<circle cx="2333.8" cy="222.9" r="8.4" fill="url(#rm)"/>
<circle cx="2335.7" cy="222.9" r="8.4" fill="url(#rm)"/>
<circle cx="2337.6" cy="222.9" r="8.4" fill="url(#rm)"/>
<circle cx="2339.4" cy="222.9" r="8.4" fill="url(#rm)"/>
<circle cx="2341.2" cy="222.9" r="8.4" fill="url(#rm)"/>
<circle cx="2343.1" cy="222.9" r="8.4" fill="url(#rm)"/>
<circle cx="2344.9" cy="222.9" r="8.4" fill="url(#rm)"/>
<circle cx="2346.6" cy="222.9" r="8.4" fill="url(#rm)"/>
<circle cx="2348.4" cy="222.9" r="8.4" fill="url(#rm)"/>
<circle cx="2350.1" cy="222.9" r="8.4" fill="url(#rm)"/>
<circle cx="2351.8" cy="222.9" r="8.4" fill="url(#rm)"/>
<circle cx="2353.5" cy="222.9" r="8.4" fill="url(#rm)"/>
<circle cx="2355.2" cy="222.9" r="8.4" fill="url(#rm)"/>
<circle cx="2356.9" cy="222.9" r="8.4" fill="url(#rm)"/>
<circle cx="2358.5" cy="222.9" r="8.4" fill="url(#rm)"/>
<circle cx="2360.1" cy="222.9" r="8.4" fill="url(#rm)"/>
<circle cx="2361.7" cy="222.9" r="8.4" fill="url(#rm)"/>
<circle cx="2363.3" cy="222.9" r="8.4" fill="url(#rm)"/>
<path d="M1938 729.5h84" stroke="#ee1c25" stroke-width="3"/>
<circle cx="1980" cy="729.5" r="7.6" fill="url(#rm)"/>
<text x="2029.5" y="740.5" font-size="36.7" text-anchor="start" fill="#222" font-family='"Liberation Serif", serif'>Al/EA-Ag<tspan font-size="25" dy="-14">+</tspan><tspan dy="14">/ITO/PET</tspan></text>
<text x="64.0" y="1111.0" font-size="62" text-anchor="start" fill="#111" font-family='"Liberation Serif", serif'>(c)</text>
<text x="198.0" y="1445.0" font-size="45" text-anchor="start" fill="#222" font-family='"Liberation Serif", serif'>OFF</text>
<text x="2018.0" y="1446.0" font-size="45" text-anchor="start" fill="#222" font-family='"Liberation Serif", serif'>SET</text>
<text x="202.5" y="2424.6" font-size="45.5" text-anchor="start" fill="#222" font-family='"Liberation Serif", serif'>RESET</text>
<text x="1983.0" y="2425.5" font-size="45.5" text-anchor="start" fill="#222" font-family='"Liberation Serif", serif'>ON</text>
<polygon points="795.2,1302.4 954.0,1143.1 954.0,1543.0 795.2,1702.3" fill="#eedacc"/>
<polygon points="340.2,1302.4 795.2,1302.4 795.2,1702.3 340.2,1702.3" fill="#f3dccf"/>
<path d="M795.2 1302.4V1702.3" stroke="#ecd5c9" stroke-width="2"/>
<polygon points="340.2,1702.3 795.2,1702.3 954.0,1543.0 499.0,1543.0" fill="#aba7bd"/>
<polygon points="795.2,1702.3 954.0,1543.0 954.0,1545.0 795.2,1704.3" fill="#a7a3bb"/>
<polygon points="340.2,1702.3 795.2,1702.3 795.2,1734.5 340.2,1734.5" fill="#8faadc"/>
<polygon points="795.2,1702.3 954.0,1543.0 954.0,1575.2 795.2,1734.5" fill="#7491c9"/>
<polygon points="340.2,1271.1 795.2,1271.1 954.0,1111.8 499.0,1111.8" fill="#989898"/>
<polygon points="340.2,1271.1 795.2,1271.1 795.2,1302.4 340.2,1302.4" fill="#808080"/>
<polygon points="795.2,1271.1 954.0,1111.8 954.0,1143.1 795.2,1302.4" fill="#6a6a6a"/>
<g filter="url(#sh)">
<circle cx="904.6" cy="1258.4" r="12" fill="url(#bY)"/>
<circle cx="883.7" cy="1320.2" r="12" fill="url(#bY)"/>
<circle cx="442.1" cy="1328.2" r="12" fill="url(#bK)"/>
<circle cx="499.1" cy="1336.3" r="12" fill="url(#bG)"/>
<circle cx="824.5" cy="1337.4" r="12" fill="url(#bG)"/>
<circle cx="400.2" cy="1348.5" r="12" fill="url(#bY)"/>
<circle cx="611.6" cy="1343.7" r="12" fill="url(#bY)"/>
<circle cx="687.7" cy="1339.3" r="12" fill="url(#bY)"/>
<circle cx="539.9" cy="1351.0" r="12" fill="url(#bY)"/>
<circle cx="774.5" cy="1349.6" r="12" fill="url(#bY)"/>
<circle cx="717.8" cy="1355.1" r="12" fill="url(#bG)"/>
<circle cx="455.3" cy="1360.2" r="12" fill="url(#bY)"/>
<circle cx="826.7" cy="1364.3" r="12" fill="url(#bY)"/>
<circle cx="507.5" cy="1380.8" r="12" fill="url(#bN)"/>
<circle cx="503.1" cy="1389.6" r="12" fill="url(#bK)"/>
<circle cx="570.0" cy="1379.0" r="12" fill="url(#bK)"/>
<circle cx="648.0" cy="1377.9" r="12" fill="url(#bY)"/>
<circle cx="525.9" cy="1398.8" r="12" fill="url(#bY)"/>
<circle cx="439.5" cy="1398.1" r="12" fill="url(#bG)"/>
<circle cx="591.4" cy="1399.9" r="12" fill="url(#bG)"/>
<circle cx="712.7" cy="1395.2" r="12" fill="url(#bY)"/>
<circle cx="755.7" cy="1398.1" r="12" fill="url(#bG)"/>
<circle cx="838.4" cy="1401.0" r="12" fill="url(#bN)"/>
<circle cx="879.6" cy="1398.1" r="12" fill="url(#bG)"/>
<circle cx="665.6" cy="1411.0" r="12" fill="url(#bG)"/>
<circle cx="397.2" cy="1424.9" r="12" fill="url(#bY)"/>
<circle cx="466.0" cy="1422.7" r="12" fill="url(#bY)"/>
<circle cx="613.0" cy="1428.6" r="12" fill="url(#bY)"/>
<circle cx="798.7" cy="1433.8" r="12" fill="url(#bY)"/>
<circle cx="860.5" cy="1434.9" r="12" fill="url(#bY)"/>
<circle cx="913.8" cy="1433.8" r="12" fill="url(#bY)"/>
<circle cx="539.5" cy="1442.2" r="12" fill="url(#bG)"/>
<circle cx="661.2" cy="1443.3" r="12" fill="url(#bN)"/>
<circle cx="689.5" cy="1450.3" r="12" fill="url(#bK)"/>
<circle cx="730.7" cy="1445.9" r="12" fill="url(#bG)"/>
<circle cx="478.1" cy="1466.1" r="12" fill="url(#bY)"/>
<circle cx="567.5" cy="1465.0" r="12" fill="url(#bG)"/>
<circle cx="414.5" cy="1478.3" r="12" fill="url(#bK)"/>
<circle cx="515.6" cy="1482.7" r="12" fill="url(#bN)"/>
<circle cx="690.3" cy="1490.0" r="12" fill="url(#bY)"/>
<circle cx="769.3" cy="1493.7" r="12" fill="url(#bG)"/>
<circle cx="802.4" cy="1487.1" r="12" fill="url(#bG)"/>
<circle cx="856.8" cy="1488.2" r="12" fill="url(#bY)"/>
<circle cx="440.2" cy="1506.6" r="12" fill="url(#bY)"/>
<circle cx="546.1" cy="1506.6" r="12" fill="url(#bY)"/>
<circle cx="631.8" cy="1506.6" r="12" fill="url(#bY)"/>
<circle cx="913.8" cy="1506.6" r="12" fill="url(#bN)"/>
<circle cx="482.9" cy="1524.2" r="12" fill="url(#bG)"/>
<circle cx="595.8" cy="1526.1" r="12" fill="url(#bG)"/>
<circle cx="810.1" cy="1522.4" r="12" fill="url(#bK)"/>
<circle cx="856.1" cy="1526.8" r="12" fill="url(#bG)"/>
<circle cx="729.2" cy="1542.2" r="12" fill="url(#bN)"/>
<circle cx="792.5" cy="1545.9" r="12" fill="url(#bY)"/>
<circle cx="536.9" cy="1553.3" r="12" fill="url(#bG)"/>
<circle cx="573.7" cy="1558.1" r="12" fill="url(#bK)"/>
<circle cx="682.2" cy="1553.3" r="12" fill="url(#bG)"/>
<circle cx="628.9" cy="1569.8" r="12" fill="url(#bG)"/>
<circle cx="427.7" cy="1577.5" r="12" fill="url(#bY)"/>
<circle cx="499.1" cy="1574.6" r="12" fill="url(#bY)"/>
<circle cx="734.4" cy="1580.1" r="12" fill="url(#bY)"/>
<circle cx="860.5" cy="1577.5" r="12" fill="url(#bY)"/>
<circle cx="559.7" cy="1588.2" r="12" fill="url(#bY)"/>
<circle cx="603.1" cy="1591.1" r="12" fill="url(#bN)"/>
<circle cx="649.1" cy="1610.3" r="12" fill="url(#bY)"/>
<circle cx="680.3" cy="1607.7" r="12" fill="url(#bG)"/>
<circle cx="533.3" cy="1609.5" r="12" fill="url(#bK)"/>
<circle cx="771.5" cy="1613.2" r="12" fill="url(#bN)"/>
<circle cx="815.3" cy="1607.7" r="12" fill="url(#bG)"/>
<circle cx="411.2" cy="1620.6" r="12" fill="url(#bN)"/>
<circle cx="459.0" cy="1615.0" r="12" fill="url(#bG)"/>
<circle cx="556.4" cy="1632.3" r="12" fill="url(#bG)"/>
<circle cx="750.2" cy="1651.8" r="12" fill="url(#bY)"/>
<circle cx="496.5" cy="1662.8" r="12" fill="url(#bY)"/>
<circle cx="607.9" cy="1662.8" r="12" fill="url(#bY)"/>
<circle cx="687.7" cy="1661.7" r="12" fill="url(#bG)"/>
<circle cx="406.4" cy="1673.9" r="12" fill="url(#bY)"/>
</g>
<text x="567.6" y="1297.9" font-size="34.5" text-anchor="middle" fill="#e4e4e4" font-family='"Liberation Serif", serif'>Al</text>
<text x="584.7" y="1732.7" font-size="34.5" text-anchor="middle" fill="#d0def5" font-family='"Liberation Serif", serif'>ITO</text>
<polygon points="1800.4,1302.7 1960.8,1143.7 1960.8,1543.3 1800.4,1702.3" fill="#eedacc"/>
<polygon points="1346.5,1302.7 1800.4,1302.7 1800.4,1702.3 1346.5,1702.3" fill="#f3dccf"/>
<path d="M1800.4 1302.7V1702.3" stroke="#ecd5c9" stroke-width="2"/>
<polygon points="1346.5,1702.3 1800.4,1702.3 1960.8,1543.3 1506.9,1543.3" fill="#aba7bd"/>
<polygon points="1800.4,1702.3 1960.8,1543.3 1960.8,1545.3 1800.4,1704.3" fill="#a7a3bb"/>
<polygon points="1346.5,1702.3 1800.4,1702.3 1800.4,1734.8 1346.5,1734.8" fill="#8faadc"/>
<polygon points="1800.4,1702.3 1960.8,1543.3 1960.8,1575.8 1800.4,1734.8" fill="#7491c9"/>
<polygon points="1346.5,1271.3 1800.4,1271.3 1960.8,1112.3 1506.9,1112.3" fill="#989898"/>
<polygon points="1346.5,1271.3 1800.4,1271.3 1800.4,1302.7 1346.5,1302.7" fill="#808080"/>
<polygon points="1800.4,1271.3 1960.8,1112.3 1960.8,1143.7 1800.4,1302.7" fill="#6a6a6a"/>
<g filter="url(#sh)">
<circle cx="1913.8" cy="1261.0" r="12" fill="url(#bY)"/>
<circle cx="1833.7" cy="1340.0" r="12" fill="url(#bG)"/>
<circle cx="1620.4" cy="1346.6" r="12" fill="url(#bY)"/>
<circle cx="1726.3" cy="1357.7" r="12" fill="url(#bG)"/>
<circle cx="1565.6" cy="1366.9" r="12" fill="url(#bK)"/>
<circle cx="1660.1" cy="1379.0" r="12" fill="url(#bN)"/>
<circle cx="1502.7" cy="1399.9" r="12" fill="url(#bG)"/>
<circle cx="1846.9" cy="1403.6" r="12" fill="url(#bN)"/>
<circle cx="1888.1" cy="1400.7" r="12" fill="url(#bG)"/>
<circle cx="1705.3" cy="1412.1" r="12" fill="url(#bY)"/>
<circle cx="1768.6" cy="1414.7" r="12" fill="url(#bG)"/>
<circle cx="1470.8" cy="1420.2" r="12" fill="url(#bY)"/>
<circle cx="1405.3" cy="1427.5" r="12" fill="url(#bY)"/>
<circle cx="1663.1" cy="1428.6" r="12" fill="url(#bG)"/>
<circle cx="1555.3" cy="1433.0" r="12" fill="url(#bK)"/>
<circle cx="1921.9" cy="1436.7" r="12" fill="url(#bY)"/>
<circle cx="1816.4" cy="1447.0" r="12" fill="url(#bK)"/>
<circle cx="1576.6" cy="1466.9" r="12" fill="url(#bG)"/>
<circle cx="1731.8" cy="1468.0" r="12" fill="url(#bK)"/>
<circle cx="1647.2" cy="1471.6" r="12" fill="url(#bN)"/>
<circle cx="1476.3" cy="1471.6" r="12" fill="url(#bG)"/>
<circle cx="1423.0" cy="1479.7" r="12" fill="url(#bK)"/>
<circle cx="1524.8" cy="1484.5" r="12" fill="url(#bN)"/>
<circle cx="1841.4" cy="1496.6" r="12" fill="url(#bK)"/>
<circle cx="1448.7" cy="1509.5" r="12" fill="url(#bY)"/>
<circle cx="1921.9" cy="1509.5" r="12" fill="url(#bN)"/>
<circle cx="1695.0" cy="1513.9" r="12" fill="url(#bY)"/>
<circle cx="1866.8" cy="1529.4" r="12" fill="url(#bG)"/>
<circle cx="1785.9" cy="1541.5" r="12" fill="url(#bY)"/>
<circle cx="1738.1" cy="1544.4" r="12" fill="url(#bN)"/>
<circle cx="1478.1" cy="1551.8" r="12" fill="url(#bY)"/>
<circle cx="1545.0" cy="1555.1" r="12" fill="url(#bG)"/>
<circle cx="1514.1" cy="1573.5" r="12" fill="url(#bN)"/>
<circle cx="1869.7" cy="1580.1" r="12" fill="url(#bY)"/>
<circle cx="1698.0" cy="1591.1" r="12" fill="url(#bK)"/>
<circle cx="1522.2" cy="1606.6" r="12" fill="url(#bK)"/>
<circle cx="1823.0" cy="1610.6" r="12" fill="url(#bG)"/>
<circle cx="1468.2" cy="1616.9" r="12" fill="url(#bG)"/>
<circle cx="1421.1" cy="1624.2" r="12" fill="url(#bN)"/>
<circle cx="1458.6" cy="1661.7" r="12" fill="url(#bY)"/>
<circle cx="1697.6" cy="1664.7" r="12" fill="url(#bG)"/>
<circle cx="1611.9" cy="1555.1" r="12" fill="url(#bY)"/>
<circle cx="1632.8" cy="1560.9" r="12" fill="url(#bY)"/>
<circle cx="1591.0" cy="1570.9" r="12" fill="url(#bG)"/>
<circle cx="1609.4" cy="1576.0" r="12" fill="url(#bY)"/>
<circle cx="1626.9" cy="1576.8" r="12" fill="url(#bY)"/>
<circle cx="1647.0" cy="1581.0" r="12" fill="url(#bG)"/>
<circle cx="1593.5" cy="1599.4" r="12" fill="url(#bG)"/>
<circle cx="1610.2" cy="1594.3" r="12" fill="url(#bY)"/>
<circle cx="1626.1" cy="1594.3" r="12" fill="url(#bY)"/>
<circle cx="1590.1" cy="1614.4" r="12" fill="url(#bY)"/>
<circle cx="1615.2" cy="1612.7" r="12" fill="url(#bY)"/>
<circle cx="1638.6" cy="1612.7" r="12" fill="url(#bY)"/>
<circle cx="1662.8" cy="1617.7" r="12" fill="url(#bG)"/>
<circle cx="1578.4" cy="1633.6" r="12" fill="url(#bG)"/>
<circle cx="1601.0" cy="1630.3" r="12" fill="url(#bY)"/>
<circle cx="1621.9" cy="1631.9" r="12" fill="url(#bY)"/>
<circle cx="1647.0" cy="1645.3" r="12" fill="url(#bY)"/>
<circle cx="1631.9" cy="1638.6" r="12" fill="url(#bG)"/>
<circle cx="1667.9" cy="1648.7" r="12" fill="url(#bG)"/>
<circle cx="1570.1" cy="1658.7" r="12" fill="url(#bG)"/>
<circle cx="1590.1" cy="1653.7" r="12" fill="url(#bY)"/>
<circle cx="1616.9" cy="1658.7" r="12" fill="url(#bY)"/>
<circle cx="1742.2" cy="1580.1" r="12" fill="url(#bY)"/>
<circle cx="1763.1" cy="1600.2" r="12" fill="url(#bY)"/>
<circle cx="1779.8" cy="1591.8" r="12" fill="url(#bY)"/>
<circle cx="1743.1" cy="1597.7" r="12" fill="url(#bG)"/>
<circle cx="1733.9" cy="1625.3" r="12" fill="url(#bG)"/>
<circle cx="1753.9" cy="1621.1" r="12" fill="url(#bY)"/>
<circle cx="1779.8" cy="1614.4" r="12" fill="url(#bN)"/>
<circle cx="1770.6" cy="1631.9" r="12" fill="url(#bY)"/>
<circle cx="1789.0" cy="1631.9" r="12" fill="url(#bY)"/>
<circle cx="1799.9" cy="1640.3" r="12" fill="url(#bG)"/>
<circle cx="1746.4" cy="1642.0" r="12" fill="url(#bY)"/>
<circle cx="1758.9" cy="1653.7" r="12" fill="url(#bY)"/>
<circle cx="1782.3" cy="1652.0" r="12" fill="url(#bY)"/>
</g>
<text x="1574.0" y="1298.2" font-size="34.5" text-anchor="middle" fill="#e4e4e4" font-family='"Liberation Serif", serif'>Al</text>
<text x="1590.0" y="1733.0" font-size="34.5" text-anchor="middle" fill="#d0def5" font-family='"Liberation Serif", serif'>ITO</text>
<path d="M1771.1 1287.2h24M1783.1 1275.2v24" stroke="#f4f4f4" stroke-width="4.8"/>
<path d="M1774.4 1720.4h14.6" stroke="#f4f4f4" stroke-width="5.4"/>
<polygon points="812.5,2283.6 973.5,2124.1 973.5,2523.8 812.5,2683.3" fill="#eedacc"/>
<polygon points="359.2,2283.6 812.5,2283.6 812.5,2683.3 359.2,2683.3" fill="#f3dccf"/>
<path d="M812.5 2283.6V2683.3" stroke="#ecd5c9" stroke-width="2"/>
<polygon points="359.2,2683.3 812.5,2683.3 973.5,2523.8 520.2,2523.8" fill="#aba7bd"/>
<polygon points="812.5,2683.3 973.5,2523.8 973.5,2525.8 812.5,2685.3" fill="#a7a3bb"/>
<polygon points="359.2,2683.3 812.5,2683.3 812.5,2716.7 359.2,2716.7" fill="#8faadc"/>
<polygon points="812.5,2683.3 973.5,2523.8 973.5,2557.2 812.5,2716.7" fill="#7491c9"/>
<polygon points="359.2,2252.6 812.5,2252.6 973.5,2093.1 520.2,2093.1" fill="#989898"/>
<polygon points="359.2,2252.6 812.5,2252.6 812.5,2283.6 359.2,2283.6" fill="#808080"/>
<polygon points="812.5,2252.6 973.5,2093.1 973.5,2124.1 812.5,2283.6" fill="#6a6a6a"/>
<g filter="url(#sh)">
<circle cx="902.6" cy="2275.7" r="12" fill="url(#bY)"/>
<circle cx="452.6" cy="2317.4" r="12" fill="url(#bY)"/>
<circle cx="843.9" cy="2323.1" r="12" fill="url(#bG)"/>
<circle cx="600.3" cy="2326.5" r="12" fill="url(#by)"/>
<circle cx="684.8" cy="2326.5" r="12" fill="url(#by)"/>
<circle cx="881.4" cy="2337.8" r="12" fill="url(#bN)"/>
<circle cx="504.5" cy="2340.9" r="12" fill="url(#bG)"/>
<circle cx="736.7" cy="2341.6" r="12" fill="url(#bG)"/>
<circle cx="575.7" cy="2350.3" r="12" fill="url(#bK)"/>
<circle cx="929.9" cy="2361.7" r="12" fill="url(#bG)"/>
<circle cx="669.3" cy="2362.5" r="12" fill="url(#bN)"/>
<circle cx="534.8" cy="2368.1" r="12" fill="url(#bK)"/>
<circle cx="424.9" cy="2373.1" r="12" fill="url(#by)"/>
<circle cx="822.7" cy="2384.4" r="12" fill="url(#bK)"/>
<circle cx="902.6" cy="2388.2" r="12" fill="url(#bN)"/>
<circle cx="473.4" cy="2398.4" r="12" fill="url(#bG)"/>
<circle cx="532.1" cy="2402.2" r="12" fill="url(#bY)"/>
<circle cx="758.3" cy="2398.4" r="12" fill="url(#by)"/>
<circle cx="418.5" cy="2426.9" r="12" fill="url(#bK)"/>
<circle cx="460.9" cy="2450.0" r="12" fill="url(#by)"/>
<circle cx="534.8" cy="2467.0" r="12" fill="url(#bN)"/>
<circle cx="928.0" cy="2489.4" r="12" fill="url(#bK)"/>
<circle cx="496.9" cy="2504.5" r="12" fill="url(#bY)"/>
<circle cx="449.9" cy="2520.8" r="12" fill="url(#bY)"/>
<circle cx="842.0" cy="2532.9" r="12" fill="url(#bG)"/>
<circle cx="880.7" cy="2563.2" r="12" fill="url(#bY)"/>
<circle cx="541.6" cy="2567.4" r="12" fill="url(#bN)"/>
<circle cx="472.7" cy="2574.6" r="12" fill="url(#bG)"/>
<circle cx="408.3" cy="2590.1" r="12" fill="url(#bN)"/>
<circle cx="833.3" cy="2593.9" r="12" fill="url(#bG)"/>
<circle cx="504.5" cy="2609.8" r="12" fill="url(#bK)"/>
<circle cx="469.6" cy="2645.8" r="12" fill="url(#bY)"/>
<circle cx="672.3" cy="2412.5" r="12" fill="url(#bG)"/>
<circle cx="658.6" cy="2454.3" r="12" fill="url(#bN)"/>
<circle cx="586.7" cy="2450.1" r="12" fill="url(#bG)"/>
<circle cx="717.1" cy="2440.9" r="12" fill="url(#by)"/>
<circle cx="754.7" cy="2442.6" r="12" fill="url(#bK)"/>
<circle cx="795.7" cy="2472.7" r="12" fill="url(#bG)"/>
<circle cx="842.5" cy="2476.9" r="12" fill="url(#by)"/>
<circle cx="578.4" cy="2498.6" r="12" fill="url(#bG)"/>
<circle cx="705.4" cy="2496.9" r="12" fill="url(#bY)"/>
<circle cx="626.9" cy="2419.2" r="12" fill="url(#by)"/>
<circle cx="643.6" cy="2440.1" r="12" fill="url(#by)"/>
<circle cx="625.2" cy="2466.0" r="12" fill="url(#by)"/>
<circle cx="644.4" cy="2481.9" r="12" fill="url(#by)"/>
<circle cx="654.4" cy="2503.6" r="12" fill="url(#by)"/>
<circle cx="625.2" cy="2516.2" r="12" fill="url(#by)"/>
<circle cx="747.2" cy="2527.0" r="12" fill="url(#bN)"/>
<circle cx="772.3" cy="2526.2" r="12" fill="url(#by)"/>
<circle cx="841.6" cy="2533.7" r="12" fill="url(#bG)"/>
<circle cx="623.5" cy="2538.7" r="12" fill="url(#bY)"/>
<circle cx="658.6" cy="2527.9" r="12" fill="url(#bS)"/>
<circle cx="661.1" cy="2547.9" r="12" fill="url(#bY)"/>
<circle cx="602.6" cy="2554.6" r="12" fill="url(#bG)"/>
<circle cx="775.6" cy="2550.4" r="12" fill="url(#by)"/>
<circle cx="633.5" cy="2561.3" r="12" fill="url(#bY)"/>
<circle cx="657.8" cy="2564.6" r="12" fill="url(#bG)"/>
<circle cx="753.0" cy="2565.5" r="12" fill="url(#bY)"/>
<circle cx="707.9" cy="2573.8" r="12" fill="url(#bK)"/>
<circle cx="604.3" cy="2582.2" r="12" fill="url(#bG)"/>
<circle cx="621.8" cy="2579.7" r="12" fill="url(#bY)"/>
<circle cx="665.3" cy="2582.2" r="12" fill="url(#by)"/>
<circle cx="600.1" cy="2597.2" r="12" fill="url(#bY)"/>
<circle cx="626.9" cy="2594.7" r="12" fill="url(#bY)"/>
<circle cx="647.7" cy="2593.9" r="12" fill="url(#bY)"/>
<circle cx="675.3" cy="2600.6" r="12" fill="url(#bG)"/>
<circle cx="652.8" cy="2606.4" r="12" fill="url(#by)"/>
<circle cx="679.5" cy="2613.9" r="12" fill="url(#by)"/>
<circle cx="588.4" cy="2617.3" r="12" fill="url(#bG)"/>
<circle cx="610.1" cy="2612.3" r="12" fill="url(#bY)"/>
<circle cx="631.9" cy="2615.6" r="12" fill="url(#bY)"/>
<circle cx="617.7" cy="2624.0" r="12" fill="url(#bY)"/>
<circle cx="641.1" cy="2623.1" r="12" fill="url(#bG)"/>
<circle cx="658.6" cy="2629.0" r="12" fill="url(#bY)"/>
<circle cx="677.0" cy="2633.1" r="12" fill="url(#bG)"/>
<circle cx="581.7" cy="2641.5" r="12" fill="url(#bG)"/>
<circle cx="601.8" cy="2638.2" r="12" fill="url(#bY)"/>
<circle cx="627.7" cy="2641.5" r="12" fill="url(#bY)"/>
<circle cx="656.1" cy="2641.5" r="12" fill="url(#by)"/>
<circle cx="707.9" cy="2647.4" r="12" fill="url(#bG)"/>
<circle cx="833.3" cy="2593.9" r="12" fill="url(#bG)"/>
<circle cx="744.7" cy="2608.9" r="12" fill="url(#bG)"/>
<circle cx="761.4" cy="2622.3" r="12" fill="url(#bY)"/>
<circle cx="794.0" cy="2615.6" r="12" fill="url(#bY)"/>
<circle cx="809.9" cy="2624.8" r="12" fill="url(#bG)"/>
<circle cx="748.9" cy="2635.7" r="12" fill="url(#bS)"/>
<circle cx="769.7" cy="2637.3" r="12" fill="url(#bY)"/>
<circle cx="793.1" cy="2635.7" r="12" fill="url(#bY)"/>
</g>
<text x="586.9" y="2279.1" font-size="34.5" text-anchor="middle" fill="#e4e4e4" font-family='"Liberation Serif", serif'>Al</text>
<text x="604.3" y="2714.9" font-size="34.5" text-anchor="middle" fill="#d0def5" font-family='"Liberation Serif", serif'>ITO</text>
<path d="M775.8 2272.3h14.6" stroke="#f4f4f4" stroke-width="5.4"/>
<path d="M778.5 2699.5h24M790.5 2687.5v24" stroke="#f4f4f4" stroke-width="4.8"/>
<polygon points="1801.3,2283.5 1960.3,2123.5 1960.3,2523.4 1801.3,2683.4" fill="#eedacc"/>
<polygon points="1346.5,2283.5 1801.3,2283.5 1801.3,2683.4 1346.5,2683.4" fill="#f3dccf"/>
<path d="M1801.3 2283.5V2683.4" stroke="#ecd5c9" stroke-width="2"/>
<polygon points="1346.5,2683.4 1801.3,2683.4 1960.3,2523.4 1505.5,2523.4" fill="#aba7bd"/>
<polygon points="1801.3,2683.4 1960.3,2523.4 1960.3,2525.4 1801.3,2685.4" fill="#a7a3bb"/>
<polygon points="1346.5,2683.4 1801.3,2683.4 1801.3,2716.8 1346.5,2716.8" fill="#8faadc"/>
<polygon points="1801.3,2683.4 1960.3,2523.4 1960.3,2556.8 1801.3,2716.8" fill="#7491c9"/>
<polygon points="1346.5,2253.0 1801.3,2253.0 1960.3,2093.0 1505.5,2093.0" fill="#989898"/>
<polygon points="1346.5,2253.0 1801.3,2253.0 1801.3,2283.5 1346.5,2283.5" fill="#808080"/>
<polygon points="1801.3,2253.0 1960.3,2093.0 1960.3,2123.5 1801.3,2283.5" fill="#6a6a6a"/>
<g filter="url(#sh)">
<circle cx="1888.2" cy="2274.6" r="12" fill="url(#bY)"/>
<circle cx="1828.8" cy="2320.8" r="12" fill="url(#bG)"/>
<circle cx="1866.3" cy="2336.3" r="12" fill="url(#bN)"/>
<circle cx="1489.7" cy="2339.0" r="12" fill="url(#bG)"/>
<circle cx="1721.6" cy="2339.0" r="12" fill="url(#bG)"/>
<circle cx="1561.3" cy="2348.4" r="12" fill="url(#bK)"/>
<circle cx="1437.4" cy="2356.0" r="12" fill="url(#bY)"/>
<circle cx="1914.0" cy="2359.8" r="12" fill="url(#bG)"/>
<circle cx="1655.3" cy="2361.7" r="12" fill="url(#bN)"/>
<circle cx="1518.9" cy="2366.6" r="12" fill="url(#bK)"/>
<circle cx="1795.4" cy="2397.7" r="12" fill="url(#bY)"/>
<circle cx="1517.0" cy="2400.7" r="12" fill="url(#bY)"/>
<circle cx="1843.9" cy="2402.6" r="12" fill="url(#bK)"/>
<circle cx="1658.3" cy="2410.2" r="12" fill="url(#bG)"/>
<circle cx="1403.3" cy="2425.3" r="12" fill="url(#bK)"/>
<circle cx="1467.7" cy="2431.0" r="12" fill="url(#bG)"/>
<circle cx="1908.3" cy="2431.0" r="12" fill="url(#bG)"/>
<circle cx="1739.4" cy="2442.0" r="12" fill="url(#bK)"/>
<circle cx="1571.9" cy="2448.8" r="12" fill="url(#bG)"/>
<circle cx="1643.1" cy="2453.4" r="12" fill="url(#bN)"/>
<circle cx="1520.0" cy="2466.6" r="12" fill="url(#bN)"/>
<circle cx="1917.4" cy="2490.5" r="12" fill="url(#bN)"/>
<circle cx="1690.1" cy="2495.0" r="12" fill="url(#bY)"/>
<circle cx="1563.2" cy="2496.9" r="12" fill="url(#bG)"/>
<circle cx="1482.9" cy="2502.6" r="12" fill="url(#bY)"/>
<circle cx="1806.0" cy="2512.1" r="12" fill="url(#bK)"/>
<circle cx="1434.8" cy="2520.1" r="12" fill="url(#bY)"/>
<circle cx="1849.2" cy="2527.2" r="12" fill="url(#bG)"/>
<circle cx="1509.4" cy="2556.0" r="12" fill="url(#bN)"/>
<circle cx="1865.5" cy="2561.3" r="12" fill="url(#bY)"/>
<circle cx="1693.9" cy="2571.2" r="12" fill="url(#bK)"/>
<circle cx="1457.5" cy="2573.8" r="12" fill="url(#bG)"/>
<circle cx="1518.1" cy="2587.9" r="12" fill="url(#bK)"/>
<circle cx="1393.1" cy="2589.0" r="12" fill="url(#bN)"/>
<circle cx="1818.2" cy="2592.0" r="12" fill="url(#bG)"/>
<circle cx="1454.5" cy="2643.9" r="12" fill="url(#bY)"/>
<circle cx="1692.4" cy="2646.6" r="12" fill="url(#bG)"/>
<circle cx="1615.2" cy="2326.0" r="12" fill="url(#by)"/>
<circle cx="1580.9" cy="2317.6" r="12" fill="url(#by)"/>
<circle cx="1596.8" cy="2319.3" r="12" fill="url(#by)"/>
<circle cx="1626.9" cy="2316.8" r="12" fill="url(#by)"/>
<circle cx="1647.0" cy="2319.3" r="12" fill="url(#by)"/>
<circle cx="1582.6" cy="2296.7" r="12" fill="url(#by)"/>
<circle cx="1604.3" cy="2300.9" r="12" fill="url(#by)"/>
<circle cx="1627.7" cy="2297.6" r="12" fill="url(#by)"/>
<circle cx="1649.5" cy="2301.8" r="12" fill="url(#by)"/>
<circle cx="1668.7" cy="2297.6" r="12" fill="url(#by)"/>
<circle cx="1585.1" cy="2342.7" r="12" fill="url(#by)"/>
<circle cx="1606.0" cy="2341.0" r="12" fill="url(#by)"/>
<circle cx="1628.6" cy="2334.3" r="12" fill="url(#by)"/>
<circle cx="1638.6" cy="2348.6" r="12" fill="url(#by)"/>
<circle cx="1596.0" cy="2363.6" r="12" fill="url(#by)"/>
<circle cx="1613.5" cy="2357.7" r="12" fill="url(#by)"/>
<circle cx="1631.1" cy="2366.1" r="12" fill="url(#by)"/>
<circle cx="1600.2" cy="2380.3" r="12" fill="url(#by)"/>
<circle cx="1617.7" cy="2377.0" r="12" fill="url(#by)"/>
<circle cx="1635.3" cy="2387.8" r="12" fill="url(#by)"/>
<circle cx="1608.5" cy="2397.9" r="12" fill="url(#by)"/>
<circle cx="1610.2" cy="2417.1" r="12" fill="url(#by)"/>
<circle cx="1630.3" cy="2415.4" r="12" fill="url(#by)"/>
<circle cx="1613.5" cy="2436.3" r="12" fill="url(#by)"/>
<circle cx="1631.1" cy="2437.1" r="12" fill="url(#by)"/>
<circle cx="1618.6" cy="2454.7" r="12" fill="url(#by)"/>
<circle cx="1606.9" cy="2465.5" r="12" fill="url(#by)"/>
<circle cx="1630.3" cy="2480.1" r="12" fill="url(#by)"/>
<circle cx="1609.4" cy="2487.6" r="12" fill="url(#by)"/>
<circle cx="1621.9" cy="2498.4" r="12" fill="url(#by)"/>
<circle cx="1640.3" cy="2500.1" r="12" fill="url(#by)"/>
<circle cx="1608.5" cy="2513.5" r="12" fill="url(#by)"/>
<circle cx="1625.2" cy="2517.7" r="12" fill="url(#by)"/>
<circle cx="1645.3" cy="2526.0" r="12" fill="url(#bS)"/>
<circle cx="1607.7" cy="2537.7" r="12" fill="url(#bY)"/>
<circle cx="1627.7" cy="2541.9" r="12" fill="url(#bY)"/>
<circle cx="1647.0" cy="2546.9" r="12" fill="url(#bY)"/>
<circle cx="1586.8" cy="2553.6" r="12" fill="url(#bG)"/>
<circle cx="1604.3" cy="2558.6" r="12" fill="url(#bY)"/>
<circle cx="1621.9" cy="2560.3" r="12" fill="url(#bY)"/>
<circle cx="1641.1" cy="2561.9" r="12" fill="url(#bG)"/>
<circle cx="1588.5" cy="2580.3" r="12" fill="url(#bG)"/>
<circle cx="1606.9" cy="2575.3" r="12" fill="url(#bY)"/>
<circle cx="1622.7" cy="2575.3" r="12" fill="url(#by)"/>
<circle cx="1649.5" cy="2579.5" r="12" fill="url(#by)"/>
<circle cx="1585.1" cy="2597.0" r="12" fill="url(#bY)"/>
<circle cx="1610.2" cy="2593.7" r="12" fill="url(#bY)"/>
<circle cx="1659.5" cy="2599.6" r="12" fill="url(#bG)"/>
<circle cx="1633.6" cy="2595.4" r="12" fill="url(#by)"/>
<circle cx="1636.9" cy="2604.6" r="12" fill="url(#by)"/>
<circle cx="1665.3" cy="2612.1" r="12" fill="url(#by)"/>
<circle cx="1573.4" cy="2615.4" r="12" fill="url(#bG)"/>
<circle cx="1593.5" cy="2610.4" r="12" fill="url(#by)"/>
<circle cx="1615.2" cy="2612.1" r="12" fill="url(#bY)"/>
<circle cx="1603.5" cy="2621.3" r="12" fill="url(#bY)"/>
<circle cx="1625.2" cy="2621.3" r="12" fill="url(#bG)"/>
<circle cx="1643.6" cy="2625.5" r="12" fill="url(#bY)"/>
<circle cx="1663.7" cy="2632.1" r="12" fill="url(#bG)"/>
<circle cx="1565.9" cy="2640.5" r="12" fill="url(#bG)"/>
<circle cx="1585.1" cy="2635.5" r="12" fill="url(#bY)"/>
<circle cx="1611.9" cy="2641.3" r="12" fill="url(#bY)"/>
<circle cx="1641.9" cy="2641.3" r="12" fill="url(#by)"/>
<circle cx="1731.4" cy="2526.0" r="12" fill="url(#bN)"/>
<circle cx="1758.1" cy="2521.8" r="12" fill="url(#by)"/>
<circle cx="1745.6" cy="2536.0" r="12" fill="url(#bS)"/>
<circle cx="1780.7" cy="2536.9" r="12" fill="url(#by)"/>
<circle cx="1758.9" cy="2546.9" r="12" fill="url(#by)"/>
<circle cx="1767.3" cy="2559.4" r="12" fill="url(#bS)"/>
<circle cx="1737.2" cy="2563.6" r="12" fill="url(#bY)"/>
<circle cx="1739.7" cy="2579.5" r="12" fill="url(#bG)"/>
<circle cx="1775.7" cy="2575.3" r="12" fill="url(#bY)"/>
<circle cx="1760.6" cy="2583.7" r="12" fill="url(#by)"/>
<circle cx="1774.8" cy="2596.2" r="12" fill="url(#bN)"/>
<circle cx="1750.6" cy="2602.9" r="12" fill="url(#bY)"/>
<circle cx="1728.9" cy="2607.1" r="12" fill="url(#bG)"/>
<circle cx="1767.3" cy="2614.6" r="12" fill="url(#bY)"/>
<circle cx="1743.1" cy="2621.3" r="12" fill="url(#by)"/>
<circle cx="1784.0" cy="2613.8" r="12" fill="url(#bY)"/>
<circle cx="1794.9" cy="2622.1" r="12" fill="url(#bG)"/>
<circle cx="1733.9" cy="2633.8" r="12" fill="url(#bS)"/>
<circle cx="1754.8" cy="2635.5" r="12" fill="url(#bY)"/>
<circle cx="1778.2" cy="2634.7" r="12" fill="url(#bY)"/>
</g>
<text x="1573.5" y="2279.0" font-size="34.5" text-anchor="middle" fill="#e4e4e4" font-family='"Liberation Serif", serif'>Al</text>
<text x="1590.0" y="2715.0" font-size="34.5" text-anchor="middle" fill="#d0def5" font-family='"Liberation Serif", serif'>ITO</text>
<path d="M1770.2 2267.7h24M1782.2 2255.7v24" stroke="#f4f4f4" stroke-width="4.8"/>
<path d="M1773.5 2701.8h14.6" stroke="#f4f4f4" stroke-width="5.4"/>
<text x="347.5" y="1341.5" font-size="34.5" text-anchor="start" fill="#3a2a25" font-family='"Liberation Serif", serif'>Fe<tspan font-size="23" dy="-13">+</tspan></text>
<text x="357.0" y="1489.0" font-size="34.5" text-anchor="start" fill="#3a2a25" font-family='"Liberation Serif", serif'>K<tspan font-size="23" dy="-13">+</tspan></text>
<text x="889.0" y="1478.5" font-size="34.5" text-anchor="start" fill="#3a2a25" font-family='"Liberation Serif", serif'>Na<tspan font-size="23" dy="-13">+</tspan></text>
<text x="667.0" y="1530.0" font-size="34.5" text-anchor="start" fill="#3a2a25" font-family='"Liberation Serif", serif'>Ag<tspan font-size="23" dy="-13">+</tspan></text>
<polygon points="1025.0,1413.0 1218.7,1413.0 1218.7,1398.5 1277.0,1427.0 1218.7,1455.5 1218.7,1441.0 1025.0,1441.0" fill="#f4a15b"/>
<polygon points="1617.0,1791.0 1646.7,1791.0 1646.7,1986.4 1660.0,1986.4 1631.7,2042.4 1603.3,1986.4 1617.0,1986.4" fill="#f4a15b"/>
<polygon points="1276.0,2419.8 1081.7,2419.8 1081.7,2406.8 1025.0,2434.3 1081.7,2461.0 1081.7,2449.3 1276.0,2449.3" fill="#f4a15b"/>
<g filter="url(#sh)">
<circle cx="2207.3" cy="1591.5" r="12.5" fill="url(#bY)"/>
<circle cx="2207.3" cy="1704.6" r="12.5" fill="url(#bA)"/>
<circle cx="2207.3" cy="1812.3" r="12.5" fill="url(#bN)"/>
<circle cx="2207.3" cy="1920.7" r="12.5" fill="url(#bK)"/>
</g>
<text x="2262.0" y="1608.0" font-size="46" text-anchor="start" fill="#222" font-family='"Liberation Serif", serif'>Fe</text>
<text x="2262.0" y="1717.0" font-size="46" text-anchor="start" fill="#222" font-family='"Liberation Serif", serif'>Ag</text>
<text x="2262.0" y="1827.5" font-size="46" text-anchor="start" fill="#222" font-family='"Liberation Serif", serif'>Na</text>
<text x="2262.0" y="1937.0" font-size="46" text-anchor="start" fill="#222" font-family='"Liberation Serif", serif'>K</text>
</svg>
</body></html>
